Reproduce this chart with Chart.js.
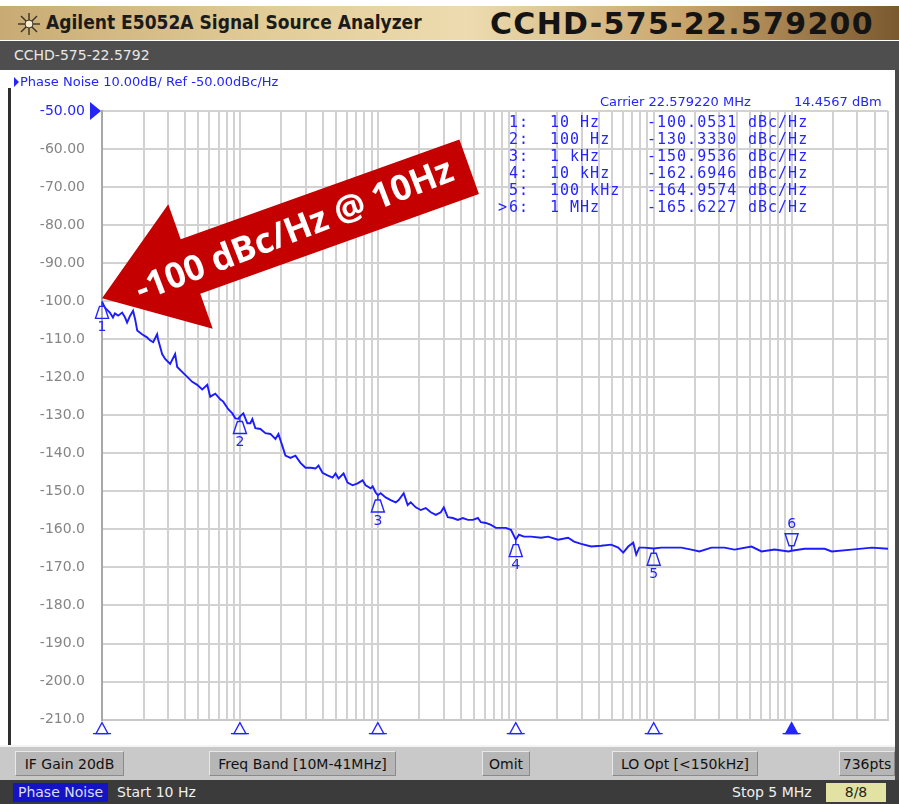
<!DOCTYPE html>
<html>
<head>
<meta charset="utf-8">
<title>E5052A Phase Noise</title>
<script src="https://cdn.jsdelivr.net/npm/chart.js@4.4.1/dist/chart.umd.min.js"></script>
<style>
  html, body { margin: 0; padding: 0; }
  body { width: 899px; height: 804px; overflow: hidden; position: relative; background: #fff; font-family: "DejaVu Sans", sans-serif; }
  .abs { position: absolute; white-space: nowrap; }
  #head { left: 0; top: 6px; width: 899px; height: 34px; background: linear-gradient(90deg, #c8ab74 0%, #e2cc98 30%, #eddcb0 52%, #c9a56c 76%, #7b592f 100%); }
  #brand { left: 46px; top: 5px; font: bold 19px "DejaVu Sans Condensed", "DejaVu Sans", sans-serif; font-stretch: condensed; color: #1b1b1b; }
  #model { left: 490px; top: 0px; font: bold 30px "DejaVu Sans", sans-serif; letter-spacing: 1.3px; color: #141414; }
  #traceName { left: 0; top: 41px; width: 899px; height: 29px; background: #4e4e4e; color: #e8e8e8; font-size: 14px; line-height: 29px; text-indent: 14px; }
  #chartBox { left: 0; top: 70px; width: 899px; height: 675px; }
  #edgeL { left: 8px; top: 88px; width: 3px; height: 657px; background: #2e2e2e; }
  #edgeR { left: 895px; top: 70px; width: 4px; height: 710px; background: #4a4a4a; }
  .blue { color: #2424ff; font-size: 13px; }
  #scaleInfo { left: 20px; top: 74px; }
  #scaleInfo:before { content: ""; position: absolute; left: -6px; top: 3px; border-left: 5px solid #2424ff; border-top: 5px solid transparent; border-bottom: 5px solid transparent; }
  #carrier { left: 600px; top: 94px; }
  #carrierPwr { left: 794px; top: 94px; }
  #status { left: 0; top: 745px; width: 895px; height: 35px; background: #c9c9c9; border-top: 2px solid #f4f4f4; box-sizing: border-box; }
  .btn { position: absolute; top: 4px; height: 25px; line-height: 25px; box-sizing: border-box; text-align: center; font-size: 14px; color: #111; background: #b6b6b6; border: 1px solid #8a8a8a; border-top-color: #e8e8e8; border-left-color: #e8e8e8; }
  #bottom { left: 0; top: 780px; width: 899px; height: 24px; background: #3b3b3b; color: #f0f0f0; font-size: 14px; }
  #bottom span { position: absolute; top: 3px; height: 19px; line-height: 19px; }
</style>
</head>
<body>
<div id="head" class="abs">
  <svg class="abs" style="left:17px;top:6px" width="24" height="24" viewBox="0 0 24 24">
    <g stroke="#3a3326" stroke-width="1.4">
      <line x1="12" y1="1" x2="12" y2="23"/><line x1="1" y1="12" x2="23" y2="12"/>
      <line x1="4" y1="4" x2="20" y2="20"/><line x1="20" y1="4" x2="4" y2="20"/>
    </g>
    <circle cx="12" cy="12" r="4" fill="#f4ead0" stroke="#3a3326" stroke-width="1"/>
  </svg>
  <div id="brand" class="abs">Agilent E5052A Signal Source Analyzer</div>
  <div id="model" class="abs">CCHD-575-22.579200</div>
</div>
<div id="traceName" class="abs">CCHD-575-22.5792</div>
<div id="chartBox" class="abs"><canvas id="pn" width="899" height="675"></canvas></div>
<div id="edgeL" class="abs"></div>
<div id="edgeR" class="abs"></div>
<div id="scaleInfo" class="abs blue">Phase Noise 10.00dB/ Ref -50.00dBc/Hz</div>
<div id="carrier" class="abs blue">Carrier 22.579220 MHz</div>
<div id="carrierPwr" class="abs blue">14.4567 dBm</div>
<div id="status" class="abs">
  <span class="btn" style="left:15px;width:109px">IF Gain 20dB</span>
  <span class="btn" style="left:209px;width:187px">Freq Band [10M-41MHz]</span>
  <span class="btn" style="left:482px;width:48px">Omit</span>
  <span class="btn" style="left:612px;width:146px">LO Opt [&lt;150kHz]</span>
  <span class="btn" style="left:839px;width:56px">736pts</span>
</div>
<div id="bottom" class="abs">
  <span style="left:13px;width:95px;background:#1414c4;color:#dcdcff;text-align:center">Phase Noise</span>
  <span style="left:117px">Start 10 Hz</span>
  <span style="left:732px">Stop 5 MHz</span>
  <span style="left:826px;width:60px;background:#e2e2a2;color:#222;text-align:center">8/8</span>
</div>

<script>
// Trace: offset frequency (Hz) and phase noise (dBc/Hz)
const freqHz = [10, 10.5, 11.4, 12.0, 12.4, 13.1, 14.0, 14.7, 15.2, 16.0, 16.8, 17.4, 18.0, 19.5, 21.2, 22.3, 23.5, 25.1, 25.5, 27.3,
    28.7, 31.2, 33.9, 35.1, 38.1, 41.5, 45.1, 49.0, 53.3, 58.0, 60.9, 66.3, 72.0, 75.7, 82.3, 88.1, 92.6, 97.4, 100,
    105.9, 109.5, 113.2, 119.0, 123.1, 129.4, 140.7, 153.0, 166.3, 180.9, 190.2, 203.3, 213.8, 232.4, 252.7, 274.8,
    298.8, 324.9, 353.2, 371.3, 397.0, 431.7, 469.4, 493.5, 518.9, 564.2, 603.3, 656.0, 713.2, 775.5, 815.4, 886.6,
    916.8, 964, 1000, 1048, 1139, 1239, 1347, 1416, 1540, 1646, 1731, 1883, 2047, 2225, 2420, 2631, 2861, 3008, 3216,
    3497, 3802, 4133, 4494, 4886, 5313, 5587, 6074, 6604, 7180, 7806, 8488, 9229, 10000, 10550, 11470, 12898, 15245,
    17140, 20262, 23953, 26487, 29773, 35196, 41608, 49185, 55299, 60127, 65386, 71072, 74724, 78600, 85440, 100000,
    113550, 134250, 158700, 187600, 214500, 262100, 326000, 385300, 512000, 605300, 752400, 951000, 1000000,
    1243000, 1737000, 1953000, 2729000, 3814000, 5000000];
const phaseNoise = [-100.1, -101.7, -103.0, -104.3, -103.2, -103.8, -103.0, -104.3, -105.6, -103.8, -102.5, -104.8, -107.7, -108.7, -109.5, -110.3, -110.8, -108.7, -110.0, -113.9,
    -115.2, -116.5, -113.9, -117.3, -118.6, -119.9, -121.2, -122.0, -123.2, -122.0, -125.1, -124.3, -125.8, -126.4, -128.4, -129.5, -130.8, -130.9, -130.3,
    -129.5, -130.8, -132.1, -132.1, -131.0, -133.4, -133.6, -134.7, -134.9, -136.2, -134.9, -138.1, -140.6, -141.2, -140.6, -142.5,
    -143.8, -143.8, -144.0, -143.2, -145.1, -145.8, -146.4, -145.3, -146.6, -145.3, -147.7, -148.4, -147.9, -147.1, -148.4, -149.2,
    -148.7, -150.3, -151.0, -150.5, -151.6, -152.3, -152.9, -152.3, -150.5, -153.6, -152.9, -154.2, -154.9, -154.4, -155.5, -156.2, -155.5, -154.2, -156.8,
    -157.0, -157.5, -157.0, -157.5, -157.5, -157.0, -158.1, -158.3, -158.8, -159.6, -159.6, -159.6, -160.1, -162.7, -161.4, -161.9, -161.9, -162.2,
    -161.9, -162.7, -162.2, -163.2, -163.8, -164.5, -164.3, -164.0, -164.8, -166.1, -164.5, -163.5, -166.6, -164.8, -164.8, -165.0,
    -164.8, -164.8, -164.8, -165.3, -165.8, -164.8, -164.8, -165.3, -164.5, -165.8, -165.3, -165.8, -165.6,
    -165.1, -165.1, -165.8, -165.3, -164.8, -165.1];

// Markers
const markerNo = ['1', '2', '3', '4', '5', '6'];
const markerHz = [10, 100, 1000, 10000, 100000, 1000000];
const markerFreqText = ['10 Hz', '100 Hz', '1 kHz', '10 kHz', '100 kHz', '1 MHz'];
const markerDbc = [-100.0531, -130.3330, -150.9536, -162.6946, -164.9574, -165.6227];
const activeMarker = 6;

// Grid / axis
const gridDecades = [10, 100, 1000, 10000, 100000, 1000000];
const gridSteps = [1, 2, 3, 4, 5, 6, 7, 8, 9];
const startHz = 10;
const stopHz = 5000000;
const refLevel = -50;
const bottomLevel = -210;
const dbPerDiv = 10;

// Callout
const calloutText = '-100 dBc/Hz @ 10Hz';
const calloutHz = 10;
const calloutDbc = -100;

const BLUE = '#2424ff';

// Vẽ marker trên đường trace (tam giác + số thứ tự)
function drawTraceMarker(ctx, x, y, label, above) {
    const d = above ? -1 : 1;
    ctx.save();
    ctx.strokeStyle = BLUE;
    ctx.fillStyle = BLUE;
    ctx.lineWidth = 1.4;
    ctx.beginPath();
    ctx.moveTo(x, y);
    ctx.lineTo(x, y + d * 5);
    ctx.moveTo(x - 2.5, y + d * 5);
    ctx.lineTo(x + 2.5, y + d * 5);
    ctx.lineTo(x + 6.5, y + d * 17);
    ctx.lineTo(x - 6.5, y + d * 17);
    ctx.closePath();
    ctx.stroke();
    ctx.font = '14px "DejaVu Sans"';
    ctx.textAlign = 'center';
    ctx.textBaseline = above ? 'bottom' : 'top';
    ctx.fillText(label, x, y + d * 19);
    ctx.restore();
}

const analyzerPlugin = {
    id: 'analyzer',
    afterDatasetsDraw(chart) {
        const ctx = chart.ctx;
        const xs = chart.scales.x;
        const ys = chart.scales.y;
        const area = chart.chartArea;

        // markers on trace
        for (let i = 0; i < markerHz.length; i++) {
            const px = xs.getPixelForValue(markerHz[i]);
            const py = ys.getPixelForValue(markerDbc[i]);
            drawTraceMarker(ctx, px, py, markerNo[i], i + 1 === activeMarker);
        }

        // marker positions under the x axis
        ctx.save();
        ctx.strokeStyle = BLUE;
        ctx.fillStyle = BLUE;
        ctx.lineWidth = 1.3;
        for (let i = 0; i < markerHz.length; i++) {
            const px = xs.getPixelForValue(markerHz[i]);
            const y0 = area.bottom + 3;
            ctx.beginPath();
            ctx.moveTo(px, y0);
            ctx.lineTo(px + 6, y0 + 11);
            ctx.lineTo(px - 6, y0 + 11);
            ctx.closePath();
            if (i + 1 === activeMarker) ctx.fill();
            ctx.stroke();
            ctx.beginPath();
            ctx.moveTo(px - 9, y0 + 11);
            ctx.lineTo(px + 9, y0 + 11);
            ctx.stroke();
        }

        // reference level pointer
        const refY = ys.getPixelForValue(refLevel);
        ctx.beginPath();
        ctx.moveTo(area.left - 1, refY);
        ctx.lineTo(area.left - 12, refY - 9);
        ctx.lineTo(area.left - 12, refY + 9);
        ctx.closePath();
        ctx.fill();

        // marker table
        ctx.font = '15px "DejaVu Sans Mono", monospace';
        ctx.letterSpacing = '1px';
        ctx.textBaseline = 'middle';
        ctx.textAlign = 'left';
        for (let i = 0; i < markerNo.length; i++) {
            const ty = area.top + 12 + i * 17.1;
            if (i + 1 === activeMarker) ctx.fillText('>', 498, ty);
            ctx.fillText(markerNo[i] + ':', 509, ty);
            ctx.fillText(markerFreqText[i], 550, ty);
            ctx.fillText(markerDbc[i].toFixed(4), 647, ty);
            ctx.fillText('dBc/Hz', 748, ty);
        }
        ctx.letterSpacing = '0px';
        ctx.restore();

        // red callout arrow pointing at 10 Hz
        const tipX = xs.getPixelForValue(calloutHz);
        const tipY = ys.getPixelForValue(calloutDbc) - 3;
        ctx.save();
        ctx.translate(tipX, tipY);
        ctx.rotate(-19.7 * Math.PI / 180);
        ctx.fillStyle = '#c40000';
        ctx.beginPath();
        ctx.moveTo(0, 0);
        ctx.lineTo(94, -66);
        ctx.lineTo(94, -29);
        ctx.lineTo(390, -29);
        ctx.lineTo(390, 29);
        ctx.lineTo(94, 29);
        ctx.lineTo(94, 66);
        ctx.closePath();
        ctx.fill();
        ctx.translate(204, 2);
        ctx.rotate(-1.5 * Math.PI / 180);
        ctx.fillStyle = '#ffffff';
        let size = 30;
        ctx.font = 'bold ' + size + 'px "Open Sans", "DejaVu Sans", sans-serif';
        size = size * 338 / ctx.measureText(calloutText).width;
        ctx.font = 'bold ' + size.toFixed(1) + 'px "Open Sans", "DejaVu Sans", sans-serif';
        ctx.textAlign = 'center';
        ctx.textBaseline = 'middle';
        ctx.fillText(calloutText, 0, 0);
        ctx.restore();
    }
};

const points = [];
for (let i = 0; i < freqHz.length; i++)
    points.push({x: freqHz[i], y: phaseNoise[i]});

const data = {
    datasets: [{
            label: 'Phase Noise',
            data: points,
            borderColor: '#1c1cff',
            borderWidth: 1.9,
            pointRadius: 0,
            tension: 0,
            fill: false
        }]
};

const config = {
    type: 'line',
    data: data,
    options: {
        responsive: false,
        animation: false,
        layout: {padding: {top: 41, left: 0, right: 11, bottom: 0}},
        plugins: {legend: {display: false}, tooltip: {enabled: false}},
        scales: {
            x: {
                type: 'logarithmic',
                min: startHz,
                max: stopHz,
                afterBuildTicks: function(scale) {
                    let ticks = [];
                    gridDecades.forEach(function(dec) {
                        gridSteps.forEach(function(s) {
                            if (dec * s <= stopHz) ticks.push({value: dec * s});
                        });
                    });
                    scale.ticks = ticks;
                },
                afterFit: function(scale) { scale.height = 18; },
                ticks: {display: false},
                grid: {color: '#d2d2d2', lineWidth: 2, drawTicks: false},
                border: {color: '#c8c8c8', width: 2}
            },
            y: {
                min: bottomLevel,
                max: refLevel,
                afterFit: function(scale) { scale.width = 102; },
                ticks: {
                    stepSize: dbPerDiv,
                    padding: 17,
                    color: function(c) { return c.tick.value === refLevel ? BLUE : '#858585'; },
                    font: {family: '"DejaVu Sans", sans-serif', size: 14},
                    callback: function(v) { return v > -100 ? v.toFixed(2) : v.toFixed(1); }
                },
                grid: {color: '#d2d2d2', lineWidth: 2, drawTicks: false},
                border: {color: '#a8a8a8', width: 2}
            }
        }
    },
    plugins: [analyzerPlugin]
};

let context = document.getElementById('pn').getContext('2d');
new Chart(context, config);
</script>
</body>
</html>
